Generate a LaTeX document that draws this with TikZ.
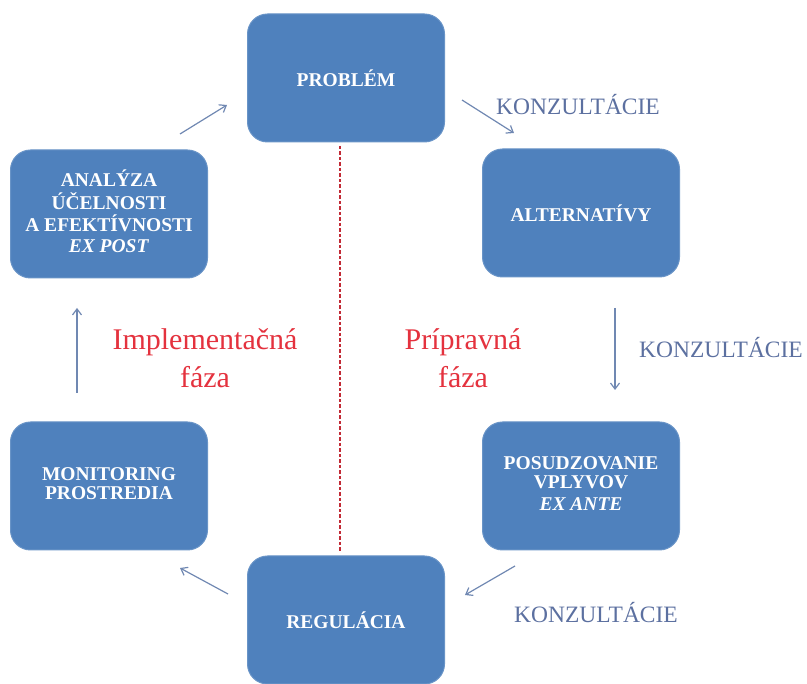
\documentclass[tikz,border=0pt]{standalone}
\usepackage{fontspec}
\setmainfont{Liberation Serif}
\usetikzlibrary{arrows.meta}
\definecolor{boxblue}{HTML}{4F81BD}
\definecolor{arrowc}{RGB}{112,136,178}
\definecolor{konzc}{RGB}{92,112,160}
\definecolor{phasered}{RGB}{228,50,62}
\tikzset{
  stagebox/.style={draw=boxblue!85!white, line width=1pt, fill=boxblue, rounded corners=20pt,
    minimum width=197pt, minimum height=128pt, inner sep=0pt, text=white,
    font=\fontsize{19.5}{19}\selectfont\bfseries, align=center},
  flow/.style={draw=arrowc, line width=1.2pt, -{Straight Barb[length=6pt,width=9pt]}},
  konz/.style={text=konzc, font=\fontsize{23.5}{24}\selectfont, inner sep=0pt},
  phase/.style={text=phasered, font=\fontsize{30}{38}\selectfont, align=center, inner sep=0pt},
}
\begin{document}
\begin{tikzpicture}[x=1pt,y=-1pt]
\useasboundingbox (0,0) rectangle (807,684);
\node[stagebox] (prob) at (346,78) {PROBLÉM};
\node[stagebox] (alt) at (581,213) {ALTERNATÍVY};
\node[stagebox] (pos) at (581,486) {\raisebox{6pt}{\begin{tabular}{@{}c@{}}POSUDZOVANIE\\VPLYVOV\\[3pt]\textit{EX ANTE}\end{tabular}}};
\node[stagebox] (reg) at (346,620) {REGULÁCIA};
\node[stagebox] (mon) at (109,486) {\raisebox{4pt}{\begin{tabular}{@{}c@{}}MONITORING\\PROSTREDIA\end{tabular}}};
\node[stagebox] (ana) at (109,214) {\raisebox{5pt}{\begin{tabular}{@{}c@{}}ANALÝZA\\ÚČELNOSTI\\A EFEKTÍVNOSTI\\[2pt]\textit{EX POST}\end{tabular}}};

\coordinate (d1) at (340,146);
\coordinate (d2) at (340,552);
\draw[draw=phasered!85!black, line width=1.1pt, dash pattern=on 3.5pt off 2pt] (d1) -- (d2);

\coordinate (a1s) at (180,134); \coordinate (a1e) at (227,105);
\coordinate (a2s) at (462,100); \coordinate (a2e) at (514,133);
\coordinate (a3s) at (615,308); \coordinate (a3e) at (615,390);
\coordinate (a4s) at (515,566); \coordinate (a4e) at (465,595);
\coordinate (a5s) at (228,594); \coordinate (a5e) at (180,568);
\coordinate (a6s) at (77,393);  \coordinate (a6e) at (77,308);
\draw[flow] (a1s) -- (a1e);
\draw[flow] (a2s) -- (a2e);
\draw[flow] (a3s) -- (a3e);
\draw[flow] (a4s) -- (a4e);
\draw[flow] (a5s) -- (a5e);
\draw[flow] (a6s) -- (a6e);

\node[konz, anchor=west] (k1) at (496,105) {KONZULTÁCIE};
\node[konz, anchor=west] (k2) at (639,348) {KONZULTÁCIE};
\node[konz, anchor=west] (k3) at (514,613) {KONZULTÁCIE};

\node[phase] (impl) at (205,358) {Implementačná\\fáza};
\node[phase] (prip) at (463,358) {Prípravná\\fáza};
\end{tikzpicture}
\end{document}
